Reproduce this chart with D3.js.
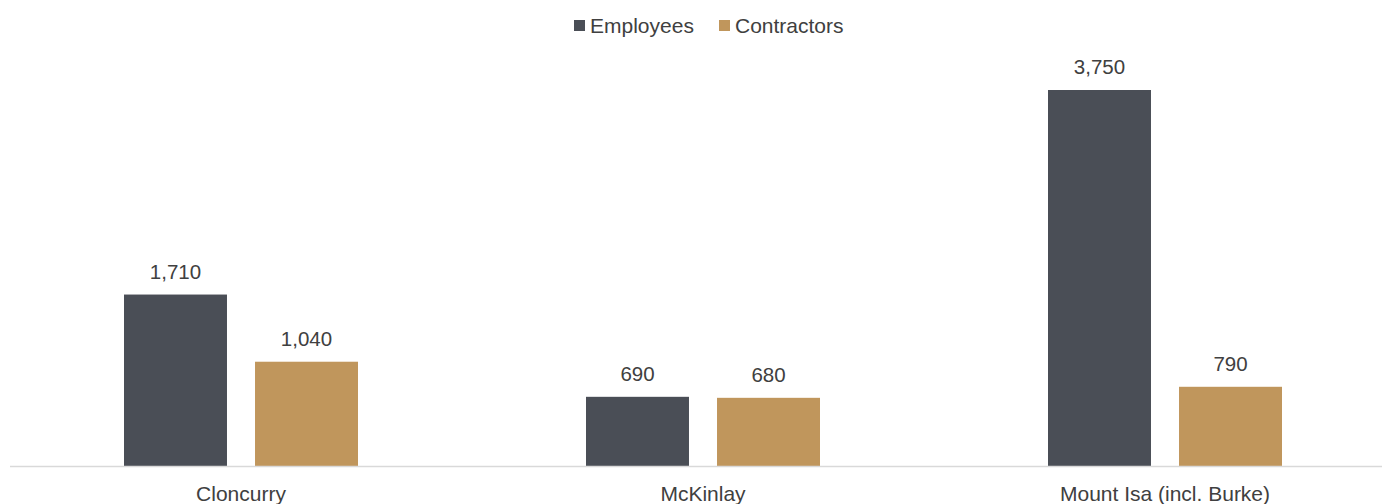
<!DOCTYPE html>
<html>
<head>
<meta charset="utf-8">
<script src="https://cdn.jsdelivr.net/npm/d3@7"></script>
<style>
  body { margin: 0; background: #fff; }
  text { font-family: "Liberation Sans", Arial, sans-serif; fill: #404040; }
</style>
</head>
<body>
<script>
const categories = ['Cloncurry', 'McKinlay', 'Mount Isa (incl. Burke)'];
const seriesNames = ['Employees', 'Contractors'];
const employees = [1710, 690, 3750];
const contractors = [1040, 680, 790];
const colors = ['#4a4e56', '#c0965c'];

const width = 1382, height = 504;
const baseY = 466;

const svg = d3.select('body').append('svg')
    .attr('width', width)
    .attr('height', height);

const x0 = d3.scaleBand()
    .domain(categories)
    .range([10, 1396]);

const x1 = d3.scaleBand()
    .domain(seriesNames)
    .range([114, 462 - 114])
    .paddingInner(0.214);

const y = d3.scaleLinear()
    .domain([0, 3750])
    .range([baseY, 90]);

const rows = categories.map((c, i) => ({
    cat: c,
    vals: [
        { key: 'Employees', v: employees[i] },
        { key: 'Contractors', v: contractors[i] }
    ]
}));

const groups = svg.selectAll('.grp')
    .data(rows)
    .enter()
    .append('g')
    .attr('transform', d => `translate(${x0(d.cat)},0)`);

groups.selectAll('rect')
    .data(d => d.vals)
    .enter()
    .append('rect')
    .attr('x', d => x1(d.key))
    .attr('width', x1.bandwidth())
    .attr('y', d => y(d.v))
    .attr('height', d => baseY - y(d.v))
    .attr('fill', (d, i) => colors[i]);

groups.selectAll('.val')
    .data(d => d.vals)
    .enter()
    .append('text')
    .attr('x', d => x1(d.key) + x1.bandwidth() / 2)
    .attr('y', d => y(d.v) - 16)
    .attr('text-anchor', 'middle')
    .style('font-size', '20.5px')
    .text(d => d3.format(',')(d.v));

// baseline
svg.append('line')
    .attr('x1', 10).attr('x2', width)
    .attr('y1', baseY + 0.5).attr('y2', baseY + 0.5)
    .attr('stroke', '#d9d9d9')
    .attr('stroke-width', 1.5);

// category axis labels
const xAxis = svg.append('g')
    .attr('transform', `translate(0,${baseY})`)
    .call(d3.axisBottom(x0).tickSize(0).tickPadding(20));
xAxis.select('.domain').remove();
xAxis.selectAll('text')
    .style('font-size', '21px')
    .style('font-family', '"Liberation Sans", Arial, sans-serif')
    .attr('fill', '#404040');

// legend
const legendItems = [
    { name: 'Employees', x: 574 },
    { name: 'Contractors', x: 719 }
];
const legend = svg.selectAll('.leg')
    .data(legendItems)
    .enter()
    .append('g')
    .attr('transform', d => `translate(${d.x},20)`);
legend.append('rect')
    .attr('width', 11).attr('height', 11)
    .attr('fill', (d, i) => colors[i]);
legend.append('text')
    .attr('x', 16)
    .attr('y', 12.5)
    .style('font-size', '21px')
    .text(d => d.name);
</script>
</body>
</html>
